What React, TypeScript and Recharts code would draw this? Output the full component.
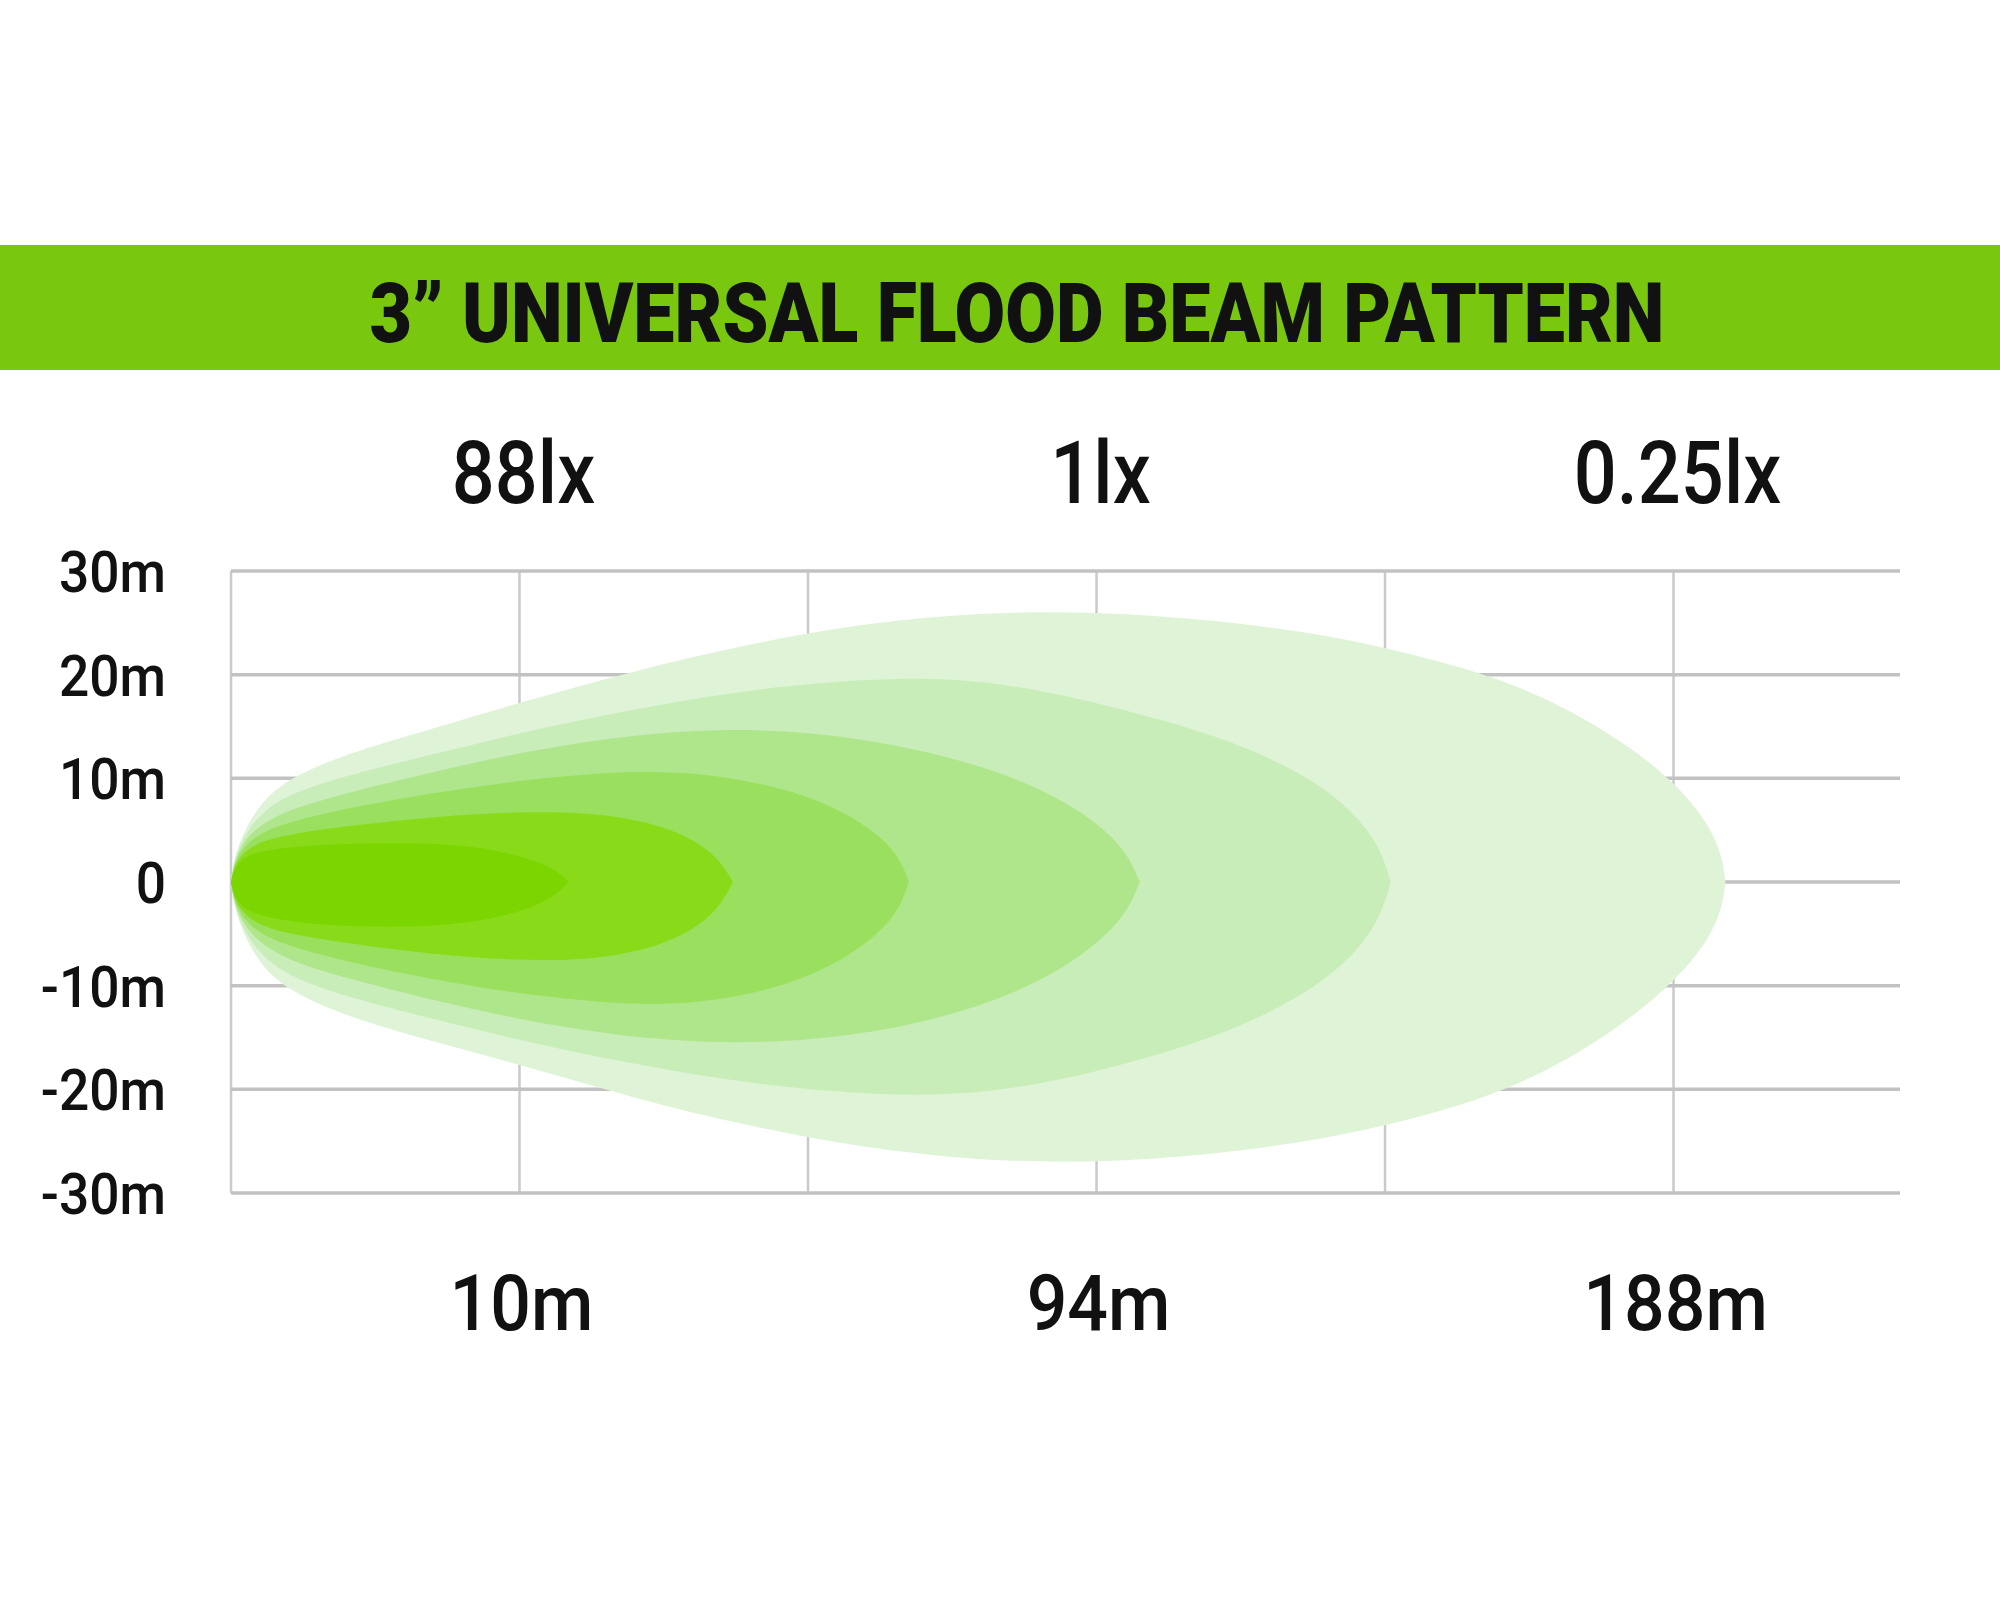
import React from 'react';
import { ComposedChart, Area, XAxis, YAxis, ReferenceLine } from 'recharts';

// beam outlines, x in grid columns (0 = lamp), r = [bottom, top] in metres
const beam6 = [
  { x: 0, r: [0, 0] },
  { x: 0.01, r: [-2.3, 2.2] },
  { x: 0.04, r: [-4.8, 4.6] },
  { x: 0.1, r: [-8, 7.6] },
  { x: 0.2, r: [-10.5, 10] },
  { x: 0.4, r: [-13, 12.4] },
  { x: 0.7, r: [-15.4, 14.8] },
  { x: 1.0, r: [-17.6, 17.3] },
  { x: 1.4, r: [-20.9, 20.4] },
  { x: 1.8, r: [-23.6, 23] },
  { x: 2.2, r: [-25.7, 25] },
  { x: 2.6, r: [-26.9, 26] },
  { x: 3.0, r: [-27.1, 26.1] },
  { x: 3.4, r: [-26.3, 25.3] },
  { x: 3.8, r: [-24.8, 23.9] },
  { x: 4.2, r: [-22.2, 21.3] },
  { x: 4.5, r: [-19.2, 18.6] },
  { x: 4.75, r: [-15.2, 14.9] },
  { x: 4.95, r: [-11, 11] },
  { x: 5.08, r: [-7.2, 7.2] },
  { x: 5.14, r: [-4.5, 4.5] },
  { x: 5.17, r: [-2.2, 2.2] },
  { x: 5.18, r: [0, 0] },
];

const beam5 = [
  { x: 0, r: [0, 0] },
  { x: 0.01, r: [-2.1, 2] },
  { x: 0.04, r: [-4.4, 4.2] },
  { x: 0.1, r: [-7, 6.6] },
  { x: 0.2, r: [-9.1, 8.5] },
  { x: 0.4, r: [-11.1, 10.3] },
  { x: 0.7, r: [-13.2, 12.3] },
  { x: 1.0, r: [-15.3, 14.4] },
  { x: 1.4, r: [-17.6, 16.7] },
  { x: 1.8, r: [-19.5, 18.6] },
  { x: 2.2, r: [-20.5, 19.6] },
  { x: 2.5, r: [-20.6, 19.7] },
  { x: 2.8, r: [-19.6, 18.6] },
  { x: 3.1, r: [-17.6, 16.6] },
  { x: 3.4, r: [-15.1, 14.3] },
  { x: 3.65, r: [-12, 11.4] },
  { x: 3.82, r: [-8.9, 8.5] },
  { x: 3.93, r: [-5.8, 5.5] },
  { x: 3.99, r: [-2.9, 2.8] },
  { x: 4.02, r: [0, 0] },
];

const beam4 = [
  { x: 0, r: [0, 0] },
  { x: 0.01, r: [-1.9, 1.8] },
  { x: 0.04, r: [-4, 3.8] },
  { x: 0.1, r: [-5.9, 5.5] },
  { x: 0.2, r: [-7.6, 7] },
  { x: 0.4, r: [-9.3, 8.6] },
  { x: 0.7, r: [-11.4, 10.6] },
  { x: 1.0, r: [-13.3, 12.5] },
  { x: 1.35, r: [-14.9, 14.1] },
  { x: 1.7, r: [-15.6, 14.8] },
  { x: 2.0, r: [-15.3, 14.5] },
  { x: 2.3, r: [-14.2, 13.3] },
  { x: 2.55, r: [-12.4, 11.6] },
  { x: 2.75, r: [-10.3, 9.7] },
  { x: 2.92, r: [-7.7, 7.3] },
  { x: 3.04, r: [-5, 4.8] },
  { x: 3.11, r: [-2.7, 2.6] },
  { x: 3.15, r: [0, 0] },
];

const beam3 = [
  { x: 0, r: [0, 0] },
  { x: 0.01, r: [-1.7, 1.6] },
  { x: 0.04, r: [-3.5, 3.3] },
  { x: 0.1, r: [-5, 4.7] },
  { x: 0.2, r: [-6.2, 5.8] },
  { x: 0.4, r: [-7.7, 7.1] },
  { x: 0.7, r: [-9.4, 8.6] },
  { x: 1.0, r: [-10.8, 9.8] },
  { x: 1.3, r: [-11.7, 10.6] },
  { x: 1.55, r: [-11.9, 10.7] },
  { x: 1.8, r: [-10.9, 9.8] },
  { x: 2.0, r: [-9.2, 8.3] },
  { x: 2.15, r: [-7, 6.4] },
  { x: 2.26, r: [-4.6, 4.2] },
  { x: 2.32, r: [-2.4, 2.2] },
  { x: 2.35, r: [0, 0] },
];

const beam2 = [
  { x: 0, r: [0, 0] },
  { x: 0.01, r: [-1.5, 1.4] },
  { x: 0.04, r: [-3, 2.8] },
  { x: 0.1, r: [-4.2, 3.9] },
  { x: 0.2, r: [-5, 4.6] },
  { x: 0.4, r: [-5.9, 5.4] },
  { x: 0.7, r: [-7, 6.3] },
  { x: 1.0, r: [-7.6, 6.8] },
  { x: 1.25, r: [-7.5, 6.7] },
  { x: 1.45, r: [-6.5, 5.8] },
  { x: 1.6, r: [-4.7, 4.2] },
  { x: 1.69, r: [-2.6, 2.3] },
  { x: 1.74, r: [0, 0] },
];

const beam1 = [
  { x: 0, r: [0, 0] },
  { x: 0.01, r: [-1.3, 1.2] },
  { x: 0.04, r: [-2.5, 2.3] },
  { x: 0.1, r: [-3.3, 3] },
  { x: 0.25, r: [-4, 3.5] },
  { x: 0.5, r: [-4.4, 3.8] },
  { x: 0.75, r: [-4.2, 3.7] },
  { x: 0.92, r: [-3.5, 3.1] },
  { x: 1.05, r: [-2.4, 2.1] },
  { x: 1.13, r: [-1.2, 1.1] },
  { x: 1.17, r: [0, 0] },
];

const gridColumns = [0, 1, 2, 3, 4, 5];
const labelColumns = [1, 3, 5];
const distanceLabels = ['10m', '94m', '188m'];
const luxLabels = ['88lx', '1lx', '0.25lx'];
const yTicks = [30, 20, 10, 0, -10, -20, -30];

const beams = [
  { data: beam6, fill: '#DFF4D7' },
  { data: beam5, fill: '#C9EDB9' },
  { data: beam4, fill: '#AFE68B' },
  { data: beam3, fill: '#9AE05E' },
  { data: beam2, fill: '#89DA18' },
  { data: beam1, fill: '#7BD600' },
];

const FONT = 'Roboto, "Liberation Sans", sans-serif';

function BottomTick(props: any) {
  const i = labelColumns.indexOf(props.payload.value);
  if (i < 0) return null;
  return (
    <text
      transform={`translate(${props.x + 2},1330) scale(0.93,1)`}
      textAnchor="middle"
      fontFamily={FONT}
      fontWeight={500}
      fontSize={77}
      fill="#111"
    >
      {distanceLabels[i]}
    </text>
  );
}

function TopTick(props: any) {
  const i = labelColumns.indexOf(props.payload.value);
  if (i < 0) return null;
  return (
    <text
      transform={`translate(${props.x + 4},503) scale(0.87,1)`}
      textAnchor="middle"
      fontFamily={FONT}
      fontWeight={500}
      fontSize={87}
      fill="#111"
    >
      {luxLabels[i]}
    </text>
  );
}

function LeftTick(props: any) {
  const v = props.payload.value;
  return (
    <text
      transform={`translate(166,${props.y + 21}) scale(0.92,1)`}
      textAnchor="end"
      fontFamily={FONT}
      fontWeight={500}
      fontSize={58}
      fill="#111"
    >
      {v === 0 ? '0' : `${v}m`}
    </text>
  );
}

export default function App() {
  return (
    <div style={{ position: 'absolute', left: 0, top: 0, width: 2000, height: 1600, background: '#fff' }}>
      <div style={{ position: 'absolute', left: 0, top: 245, width: 2000, height: 125, background: '#7AC70F' }} />
      <svg style={{ position: 'absolute', left: 0, top: 0 }} width={2000} height={400}>
        <text
          x={1017}
          y={342}
          textAnchor="middle"
          textLength={1295}
          lengthAdjust="spacingAndGlyphs"
          fontFamily={FONT}
          fontWeight={900}
          fontSize={84}
          fill="#111"
        >
          3” UNIVERSAL FLOOD BEAM PATTERN
        </text>
      </svg>
      <div style={{ position: 'absolute', left: 0, top: 0 }}>
        <ComposedChart width={2000} height={1600} margin={{ top: 570, right: 100, bottom: 406, left: 230 }}>
          <XAxis
            dataKey="x"
            type="number"
            domain={[0, 5.785]}
            ticks={gridColumns}
            height={1}
            axisLine={false}
            tickLine={false}
            tick={<BottomTick />}
            allowDataOverflow
          />
          <XAxis
            xAxisId="top"
            orientation="top"
            dataKey="x"
            type="number"
            domain={[0, 5.785]}
            ticks={labelColumns}
            height={1}
            axisLine={false}
            tickLine={false}
            tick={<TopTick />}
            allowDataOverflow
          />
          <YAxis
            type="number"
            domain={[-30, 30]}
            ticks={yTicks}
            width={1}
            axisLine={false}
            tickLine={false}
            tick={<LeftTick />}
            interval={0}
          />
          {gridColumns.map((v) => (
            <ReferenceLine key={`gx${v}`} x={v} stroke="#CACACA" strokeWidth={2.5} zIndex={-10} />
          ))}
          {yTicks.map((v) => (
            <ReferenceLine key={`gy${v}`} y={v} stroke="#C2C2C2" strokeWidth={3.5} zIndex={-10} />
          ))}
          {beams.map((b, i) => (
            <Area
              key={i}
              data={b.data}
              dataKey="r"
              type="basis"
              fill={b.fill}
              fillOpacity={1}
              stroke="none"
              dot={false}
              activeDot={false}
              isAnimationActive={false}
            />
          ))}
        </ComposedChart>
      </div>
    </div>
  );
}
